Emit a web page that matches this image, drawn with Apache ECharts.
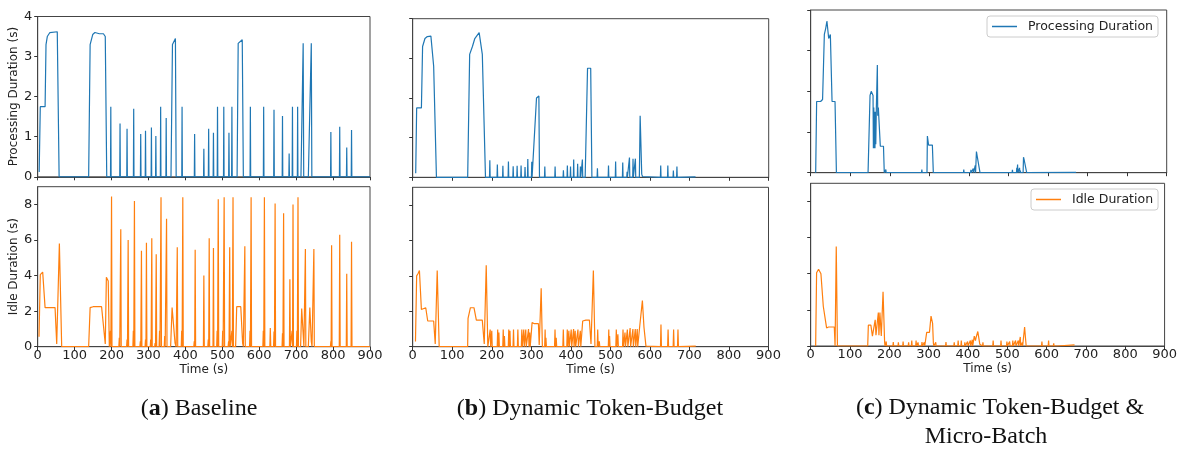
<!DOCTYPE html>
<html><head><meta charset="utf-8">
<script src="https://cdn.jsdelivr.net/npm/echarts@6/dist/echarts.min.js"></script>
<style>html,body{margin:0;padding:0;background:#fff}#c{width:1180px;height:450px}</style>
</head><body><div id="c"></div>
<script>
// ---- data (time in s, value in s) ----
const xTicks = [0,100,200,300,400,500,600,700,800,900];
const procTicks = [0,1,2,3,4];
const idleTicks = [0,2,4,6,8];

// (a) Baseline
const procABase = [[4,0.12],[7,1.75],[20,1.75],[22.5,3.3],[26,3.5],[33,3.6],[53,3.62],[58,0],[138,0],[142,3.3],[149,3.55],[155,3.6],[167,3.57],[178,3.57],[183,3.5],[187,0],[361,0],[365,3.3],[373,3.45],[375,0],[540,0],[543,3.33],[554,3.42],[557,0],[713,0],[719,3.33],[720.5,0],[733,0],[741,3.33],[742.5,0],[900,0]];
const procASpikes = [[198,1.75],[223,1.33],[242,1.2],[260,1.7],[279,1.07],[292,1.15],[308,1.23],[320,1.02],[333,1.75],[348,1.47],[391,1.75],[425,1.07],[450,0.7],[463,1.2],[476,1.1],[487,1.75],[504,1.75],[518,1.1],[526,1.75],[576,1.75],[612,1.75],[640,1.67],[663,1.52],[681,0.58],[690,1.75],[704,1.75],[794,1.12],[818,1.25],[837,0.73],[850,1.17]];
const idleABase = [[3.6,0.56],[7,4.05],[11,4.15],[13.5,4.2],[20,2.2],[47,2.2],[51.5,0.15],[58.7,5.8],[65,0],[138,0],[142,2.2],[150,2.25],[173,2.25],[183,0.15],[186,3.9],[191,3.7],[194,0],[360,0],[364,2.2],[367,2.2],[372,0.2],[375,0],[536,0],[539,2.25],[550,2.25],[555,0.2],[557,0],[712,0],[715,2.15],[719,2.1],[721,0],[733,0],[737,2.2],[741,0.3],[743,0],[900,0]];
const idleASpikes = [[197,0.9],[200,8.45],[221,0.5],[225,6.6],[242,0.4],[245,6.0],[259,0.9],[262,8.2],[278,0.3],[281,5.4],[292,0.4],[294.5,5.85],[306,0.4],[309,6.1],[318,0.2],[321,5.2],[330,0.9],[334,8.4],[344,0.6],[349,7.2],[378,5.6],[390,0.9],[393,8.4],[424,0.3],[426.5,5.45],[450,4.0],[462,0.4],[464.5,6.1],[476,5.55],[486,0.9],[489,8.3],[501,0.9],[505,8.4],[517,0.3],[520,5.6],[526,0.9],[529,8.4],[561,5.65],[575,0.9],[578,8.4],[611,0.9],[614,8.4],[630,1.05],[640,0.85],[643,8.05],[663,0.75],[666,7.5],[683,3.8],[689,0.9],[691.5,8.0],[702,0.9],[705,8.4],[725,5.5],[748,5.5],[794,0.3],[796,5.7],[818,6.3],[837,4.1],[850,5.9]];

// (b) Dynamic Token-Budget
const procBBase = [[7.6,0.1],[10,1.75],[22,1.75],[25,3.3],[31,3.5],[37,3.55],[46,3.56],[53,2.8],[57,2.8],[60,0],[139,0],[144,3.1],[151,3.3],[157,3.5],[161,3.55],[168,3.65],[171,3.7],[176,3.1],[181,3.1],[184,0],[306,0],[313,2.0],[319,2.05],[320.5,0],[436,0],[442,2.75],[450,2.75],[453,0],[573,0],[575,1.55],[577,1.55],[579,0.08],[581,0.02],[715,0.01]];
const procBSpikes = [[195,0.43],[214,0.32],[228,0.29],[242,0.4],[254,0.28],[264,0.29],[274,0.3],[284,0.26],[291,0.46],[301,0.39],[334,0.27],[360,0.27],[381,0.18],[391,0.3],[399,0.27],[407,0.45],[417,0.34],[424,0.27],[429,0.45],[467,0.23],[495,0.3],[513,0.4],[531,0.37],[542,0.14],[548,0.5],[557,0.47],[563,0.47],[627,0.3],[645,0.3],[659,0.17],[668,0.27]];
const idleBBase = [[7,0.3],[10,4.0],[14,4.15],[17,4.3],[22,2.1],[25,2.2],[33,2.2],[38,1.45],[53,1.45],[57,0.15],[62,4.3],[67,0],[139,0],[140,1.6],[146,2.2],[149,2.25],[155,2.2],[161,1.5],[176,1.5],[181,0.15],[186,4.6],[190,0],[300,0],[302,1.36],[308,1.3],[318,1.3],[320,0.1],[325,3.3],[328,0],[427,0],[430,1.45],[434,1.4],[438,1.5],[447,1.5],[451,0.15],[457,4.3],[461,0],[572,0],[574,1.1],[577,1.1],[581,2.6],[585,1.1],[588,1.1],[590,0.03],[716,0.03]];
const idleBSpikes = [[196,0.97],[200,0.9],[215,0.97],[218,0.8],[229,0.97],[232,0.6],[243,0.97],[246,0.9],[255,0.97],[266,0.97],[276,0.97],[281,0.97],[286,0.97],[293,1.0],[296,0.8],[335,0.97],[337,0.5],[360,0.97],[363,0.5],[381,0.97],[391,0.97],[395,0.9],[401,0.97],[407,1.0],[411,0.9],[418,0.97],[424,0.9],[468,0.97],[472,0.3],[496,0.97],[498,0.6],[515,0.97],[519,0.7],[532,0.97],[537,0.8],[543,0.97],[550,1.05],[557,1.0],[563,1.0],[568,1.0],[628,1.25],[646,0.97],[660,0.97],[671,0.97]];

// (c) Dynamic Token-Budget & Micro-Batch
const procCBase = [[12.6,0],[15,1.75],[25,1.75],[30,1.8],[34.5,3.4],[38,3.55],[41,3.73],[45.5,3.3],[49.7,3.4],[54,1.75],[61.5,1.75],[65,0],[145,0],[150,1.9],[153,2.0],[157.6,1.9],[158.5,0.6],[159.5,1.6],[160.5,0.6],[161.5,1.5],[162.5,0.6],[163.5,1.5],[164.5,0.7],[166,1.6],[168.5,2.65],[169.5,1.4],[171,1.6],[176,0.65],[184,0.65],[186,0],[294,0],[295,0.9],[298,0.68],[307.6,0.68],[310,0],[418,0],[419,0.52],[421,0.4],[426,0.4],[428,0],[537,0],[538,0.38],[540,0.3],[544,0.3],[546,0],[671,0.01]];
const procCSpikes = [[190,0.08],[236,0.03],[281,0.08],[387,0.08],[405,0.07],[411,0.1],[416,0.18],[482,0.03],[510,0.07],[521,0.12],[523,0.2],[528,0.12],[530,0.05]];
const idleCBase = [[12.6,0],[15,4.05],[20,4.25],[26,4.0],[32,2.2],[36,2.15],[40.4,1.0],[45.5,1.05],[60,1.05],[62,0],[65,5.5],[68,0],[145,0],[146.6,1.15],[153,1.15],[157,0.55],[162,0.55],[164,1.45],[166,0.6],[168,0.6],[172,1.85],[173.5,0.6],[176,1.85],[179.5,0.55],[184,3.0],[188,0.2],[189,0],[294,0],[295,0.75],[302,0.75],[306,1.65],[310,1.25],[312,0.15],[313,0],[414,0],[416,0.55],[419,0.3],[421,0.5],[423,0.4],[425,0.8],[428,0.75],[430,0.1],[431,0],[542,0],[544,1.05],[546,0.5],[548,0],[627,0],[628,0.06],[671,0.06]];
const idleCSpikes = [[192,0.25],[210,0.22],[223,0.2],[235,0.25],[249,0.2],[257,0.3],[268,0.3],[273,0.2],[283,0.22],[289,0.2],[318,0.2],[344,0.22],[365,0.2],[375,0.3],[383,0.3],[392,0.2],[399,0.25],[406,0.3],[411,0.35],[438,0.2],[464,0.3],[470,0.1],[484,0.3],[499,0.25],[506,0.25],[514,0.3],[521,0.3],[528,0.3],[533,0.5],[538,0.2],[588,0.25],[605,0.3],[618,0.15]];

// ---- build ----
function build(base, spikes, w){
  const pts = base.map(p => [p[0], p[1]]);
  spikes.forEach(s => { pts.push([s[0]-w,0],[s[0],s[1]],[s[0]+w,0]); });
  pts.sort((a,b) => a[0]-b[0]);
  return pts;
}
const FONT = 'DejaVu Sans';
const BLUE = '#1f77b4', ORANGE = '#ff7f0e';
const grids = [
  {left:37.7, top:16.5, width:332.3, height:160.3},
  {left:37.7, top:186.7, width:332.3, height:160},
  {left:412.7, top:18.7, width:356, height:158.6},
  {left:412.7, top:187.3, width:355.8, height:159.4},
  {left:810.7, top:10, width:356, height:162.7},
  {left:810.7, top:183.3, width:356, height:162.7}
].map(g => Object.assign({show:true, borderColor:'#444', borderWidth:1, backgroundColor:'#fff'}, g));

const xAxes = grids.map((g,i) => {
  const bottom = i % 2 === 1;
  return {
    type:'value', gridIndex:i, min:0, max:900, interval:100,
    axisLine:{show:true, onZero:false, lineStyle:{color:'#444', width:1}},
    axisTick:{show:true, length:3.5, lineStyle:{color:'#333', width:1}, customValues:xTicks},
    axisLabel:{show:bottom, customValues:xTicks, fontFamily:FONT, fontSize:13, color:'#222', margin:2},
    splitLine:{show:false},
    name: bottom ? 'Time (s)' : '', nameLocation:'middle', nameGap:17,
    nameTextStyle:{fontFamily:FONT, fontSize:12, color:'#222'}
  };
});
const yAxes = grids.map((g,i) => {
  const bottom = i % 2 === 1;
  const first = i < 2;
  const ticks = bottom ? idleTicks : procTicks;
  return {
    type:'value', gridIndex:i, min:0, max: bottom ? 9 : 4, interval: bottom ? 2 : 1,
    axisLine:{show:true, lineStyle:{color:'#444', width:1}},
    axisTick:{show:true, length:3.5, lineStyle:{color:'#333', width:1}, customValues:ticks},
    axisLabel:{show:first, customValues:ticks, fontFamily:FONT, fontSize:13, color:'#222', margin:5.5},
    splitLine:{show:false},
    name: first ? (bottom ? 'Idle Duration (s)' : 'Processing Duration (s)') : '',
    nameLocation:'middle', nameGap:12, nameRotate:90,
    nameTextStyle:{fontFamily:FONT, fontSize:12, color:'#222'}
  };
});
const seriesData = [
  build(procABase, procASpikes, 0.8), build(idleABase, idleASpikes, 1.2),
  build(procBBase, procBSpikes, 0.8), build(idleBBase, idleBSpikes, 1.2),
  build(procCBase, procCSpikes, 0.8), build(idleCBase, idleCSpikes, 1.0)
];
const series = seriesData.map((d,i) => ({
  type:'line', name: i%2 ? 'Idle Duration' : 'Processing Duration',
  xAxisIndex:i, yAxisIndex:i, data:d, showSymbol:false, symbol:'none',
  lineStyle:{color: i%2 ? ORANGE : BLUE, width:1.2}, itemStyle:{color: i%2 ? ORANGE : BLUE},
  animation:false, silent:true, sampling:null
}));
const legendCommon = {
  orient:'horizontal', icon:'rect', itemWidth:25, itemHeight:1.5, selectedMode:false,
  padding:[4,5,4,5], borderColor:'#ccc', borderWidth:1, borderRadius:3, backgroundColor:'rgba(255,255,255,0.85)',
  textStyle:{fontFamily:FONT, fontSize:12.5, color:'#222', padding:[0,0,0,6]}
};
const serif = 'Liberation Serif';
function cap(x, y, txt){
  return {type:'text', x:x, y:y, style:{text:txt, fontFamily:serif, fontSize:24, fill:'#111', align:'center', verticalAlign:'middle',
    rich:{b:{fontFamily:serif, fontSize:24, fontWeight:'bold', fill:'#111'}}}};
}
const option = {
  backgroundColor:'#fff', animation:false,
  grid:grids, xAxis:xAxes, yAxis:yAxes, series:series,
  legend:[
    Object.assign({data:['Processing Duration'], left:987, top:16}, legendCommon),
    Object.assign({data:['Idle Duration'], left:1031, top:189}, legendCommon)
  ],
  graphic:[
    cap(199, 409, '({b|a}) Baseline'),
    cap(590, 409, '({b|b}) Dynamic Token-Budget'),
    cap(1000, 408, '({b|c}) Dynamic Token-Budget &'),
    cap(986, 437, 'Micro-Batch')
  ]
};
const chart = echarts.init(document.getElementById('c'), null, {renderer:'canvas'});
chart.setOption(option);
</script></body></html>
